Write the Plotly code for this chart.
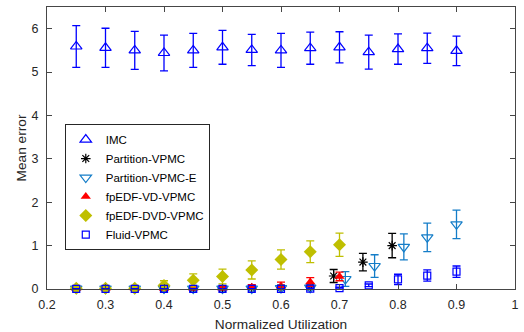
import plotly.graph_objects as go

x_all = [0.25, 0.30, 0.35, 0.40, 0.45, 0.50, 0.55, 0.60, 0.65, 0.70, 0.75, 0.80, 0.85, 0.90]

imc_y = [5.59, 5.56, 5.50, 5.44, 5.50, 5.57, 5.51, 5.50, 5.55, 5.57, 5.46, 5.53, 5.55, 5.49]
imc_err = [0.48, 0.45, 0.44, 0.41, 0.39, 0.39, 0.36, 0.39, 0.37, 0.36, 0.39, 0.35, 0.35, 0.34]

part_x = [0.25, 0.30, 0.35, 0.40, 0.45, 0.50, 0.55, 0.60, 0.65, 0.69, 0.74, 0.79]
part_y = [0.01, 0.01, 0.01, 0.01, 0.01, 0.01, 0.02, 0.03, 0.05, 0.30, 0.62, 1.00]
part_err = [0.01, 0.01, 0.01, 0.01, 0.01, 0.01, 0.02, 0.03, 0.04, 0.15, 0.20, 0.28]

parte_x = [0.25, 0.30, 0.35, 0.40, 0.45, 0.50, 0.55, 0.60, 0.65, 0.71, 0.76, 0.81, 0.85, 0.90]
parte_y = [0.01, 0.01, 0.01, 0.01, 0.01, 0.01, 0.01, 0.02, 0.03, 0.23, 0.53, 0.97, 1.19, 1.49]
parte_err = [0.01, 0.01, 0.01, 0.01, 0.01, 0.01, 0.02, 0.02, 0.03, 0.17, 0.26, 0.30, 0.33, 0.33]

vd_x = [0.25, 0.30, 0.35, 0.40, 0.45, 0.50, 0.55, 0.60, 0.65, 0.70]
vd_y = [0.01, 0.01, 0.01, 0.01, 0.02, 0.02, 0.04, 0.07, 0.16, 0.29]
vd_err = [0.01, 0.01, 0.01, 0.02, 0.03, 0.04, 0.06, 0.09, 0.10, 0.10]

dvd_x = [0.25, 0.30, 0.35, 0.40, 0.45, 0.50, 0.55, 0.60, 0.65, 0.70]
dvd_y = [0.02, 0.02, 0.02, 0.08, 0.20, 0.29, 0.44, 0.68, 0.86, 1.02]
dvd_err = [0.03, 0.03, 0.04, 0.11, 0.15, 0.17, 0.21, 0.22, 0.25, 0.27]

fluid_x = [0.25, 0.30, 0.35, 0.40, 0.45, 0.50, 0.55, 0.60, 0.65, 0.70, 0.75, 0.80, 0.85, 0.90]
fluid_y = [0.005, 0.005, 0.005, 0.005, 0.005, 0.005, 0.005, 0.005, 0.01, 0.02, 0.085, 0.22, 0.31, 0.40]
fluid_err = [0.005, 0.005, 0.005, 0.005, 0.005, 0.005, 0.005, 0.005, 0.01, 0.02, 0.03, 0.12, 0.13, 0.13]

x_ticks = [0.2, 0.3, 0.4, 0.5, 0.6, 0.7, 0.8, 0.9, 1.0]
x_tick_labels = ["0.2", "0.3", "0.4", "0.5", "0.6", "0.7", "0.8", "0.9", "1"]
y_ticks = [0, 1, 2, 3, 4, 5, 6]

FONT = "Liberation Sans, Arial, sans-serif"

def series(name, xs, ys, errs, color, symbol, size, line_w=1.2):
    return go.Scatter(
        x=xs, y=ys, name=name, mode="markers",
        marker=dict(symbol=symbol, size=size, color=color,
                    line=dict(color=color, width=line_w)),
        error_y=dict(type="data", array=errs, visible=True,
                     color=color, thickness=1.3, width=4),
        cliponaxis=False,
    )

fig = go.Figure()
fig.add_trace(series("IMC", x_all, imc_y, imc_err, "rgb(0,0,255)", "triangle-up-open", 10))
fig.add_trace(series("Partition-VPMC", part_x, part_y, part_err, "rgb(0,0,0)", "asterisk-open", 8))
fig.add_trace(series("Partition-VPMC-E", parte_x, parte_y, parte_err, "rgb(20,125,200)", "triangle-down-open", 10))
fig.add_trace(series("fpEDF-VD-VPMC", vd_x, vd_y, vd_err, "rgb(255,0,0)", "triangle-up", 9, 0))
fig.add_trace(series("fpEDF-DVD-VPMC", dvd_x, dvd_y, dvd_err, "rgb(191,191,0)", "diamond", 10, 0))
fig.add_trace(series("Fluid-VPMC", fluid_x, fluid_y, fluid_err, "rgb(0,0,255)", "square-open", 7))

axis_common = dict(
    showgrid=False, zeroline=False, showline=True, mirror="ticks",
    linecolor="rgb(70,70,70)", linewidth=1, automargin=False,
    ticks="inside", ticklen=5, tickcolor="rgb(70,70,70)", tickwidth=1,
    tickfont=dict(family=FONT, size=12.5, color="rgb(38,38,38)"),
)

fig.update_xaxes(range=[0.2, 1.0], tickvals=x_ticks, ticktext=x_tick_labels,
                 title=dict(text="Normalized Utilization", standoff=10,
                            font=dict(family=FONT, size=13.7, color="rgb(38,38,38)")),
                 ticklabelstandoff=4, **axis_common)
fig.update_yaxes(range=[0, 6.5], tickvals=y_ticks,
                 title=dict(text="Mean error", standoff=1,
                            font=dict(family=FONT, size=13.7, color="rgb(38,38,38)")),
                 ticklabelstandoff=5, **axis_common)

fig.update_layout(
    width=524, height=332,
    margin=dict(l=47, r=9, t=7, b=43),
    paper_bgcolor="white", plot_bgcolor="white",
    font=dict(family=FONT, color="rgb(0,0,0)"),
    showlegend=True,
    legend=dict(x=0.038, y=0.585, xanchor="left", yanchor="top",
                bgcolor="white", bordercolor="rgb(38,38,38)", borderwidth=1,
                font=dict(family=FONT, size=11.5, color="black"),
                tracegroupgap=0, itemwidth=30),
)

fig.write_html("out.html", config={"displayModeBar": False},
               post_script="document.body.style.margin='0';")
